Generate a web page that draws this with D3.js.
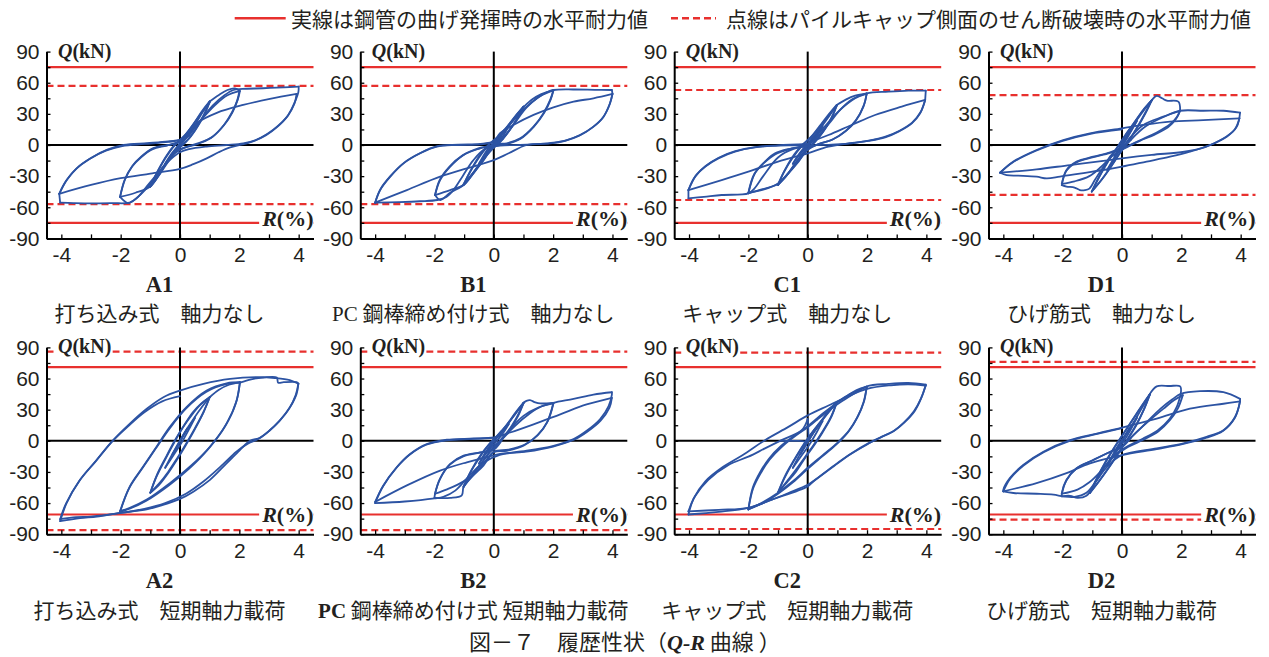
<!DOCTYPE html>
<html>
<head>
<meta charset="utf-8">
<script src="https://cdn.jsdelivr.net/npm/d3@7"></script>
<style>
  body { margin: 0; background: #fff; }
  svg { display: block; }
</style>
</head>
<body>
<svg id="chart" width="1269" height="657"></svg>
<script>
// ---- Q-R hysteresis records (R in %, Q in kN); each inner array is one loading branch ----
const loopsA1 = [
  [[0,0],[0.1,4],[0.25,9]],
  [[0.25,9],[0.05,2],[-0.1,-3],[-0.25,-8]],
  [[-0.25,-8],[-0.05,-1],[0.2,8],[0.5,19]],
  [[0.5,19],[0.3,10],[0.05,1],[-0.2,-7],[-0.5,-18]],
  [[-0.5,-18],[-0.3,-9],[-0.05,0],[0.2,8],[0.5,19]],
  [[0.5,19],[0.75,31],[1.0,42]],
  [[1.0,42],[0.85,31],[0.6,18],[0.3,6],[0,-2],[-0.3,-11],[-0.6,-24],[-0.85,-35],[-1.0,-40]],
  [[-1.0,-40],[-0.8,-28],[-0.5,-13],[-0.2,-1],[0.1,7],[0.4,18],[0.7,30],[1.0,41]],
  [[1.0,41],[0.8,29],[0.5,14],[0.2,3],[-0.1,-5],[-0.4,-16],[-0.7,-29],[-1.0,-40]],
  [[-1.0,-40],[-0.75,-25],[-0.45,-10],[-0.15,1],[0.15,9],[0.45,20],[0.75,33],[1.0,42]],
  [[1.0,42],[1.3,48],[1.6,53],[1.85,54.5],[2.02,52]],
  [[2.02,52],[1.95,44],[1.78,33],[1.5,20],[1.1,8],[0.6,1.5],[0.2,-2],[-0.2,-8],[-0.55,-20],[-0.9,-34],[-1.2,-44],[-1.5,-52],[-1.75,-56],[-2.02,-50]],
  [[-2.02,-50],[-1.85,-33],[-1.6,-20],[-1.3,-11],[-0.9,-3],[-0.4,0],[0,3],[0.4,14],[0.8,27],[1.2,39],[1.6,48],[2.0,52]],
  [[2.0,52],[1.93,43],[1.76,31],[1.48,19],[1.05,7],[0.55,0.5],[0.1,-3],[-0.3,-11],[-0.7,-28],[-1.0,-40],[-1.5,-46],[-2.02,-50]],
  [[-2.02,-50],[-1.87,-34],[-1.62,-21],[-1.32,-12],[-0.92,-4],[-0.45,-0.5],[0,3.5],[0.3,9]],
  [[0.3,9],[0.7,24],[1.1,38],[1.5,48],[1.8,53],[2.1,54],[2.8,54.7],[3.5,55.6],[4.0,56.3]],
  [[4.0,56.3],[3.99,51],[3.88,42],[3.65,29],[3.31,18.6],[2.94,10.6],[2.56,4.8],[2.13,1.6],[1.57,0],[0.9,-1.5],[0.3,-4],[0,-7],[-0.4,-16],[-0.8,-29],[-1.15,-41],[-1.45,-51],[-1.7,-55.5],[-2.3,-56],[-3.0,-56.3],[-3.6,-56],[-4.04,-55.6]],
  [[-4.04,-55.6],[-4.07,-47]],
  [[-4.07,-47],[-3.85,-35],[-3.5,-23],[-3.05,-13.5],[-2.5,-5.5],[-1.95,-1],[-1.2,1],[-0.4,3],[0,5],[0.2,10],[0.56,21],[1.24,31],[2.13,38.6],[3.03,44.4],[3.93,49.2]],
  [[3.93,49.2],[3.86,40],[3.63,28],[3.28,17.5],[2.9,9.5],[2.5,4],[2.1,0.5],[1.69,-2.3],[1.3,-7],[0.9,-12.9],[0.45,-18.5],[0,-23],[-1.0,-27.5],[-2.0,-32],[-3.0,-38.5],[-4.07,-47]],
  [[-4.07,-47],[-3.8,-33],[-3.45,-21.5],[-3.0,-12.5],[-2.45,-4.5],[-1.9,0],[-1.1,1.8],[-0.4,3.5],[0,5]]
];

const loopsB1 = [
  [[0,0],[0.1,3],[0.25,8]],
  [[0.25,8],[0,0],[-0.25,-8]],
  [[-0.25,-8],[0,1],[0.5,18]],
  [[0.5,18],[0.2,4],[-0.1,-4],[-0.5,-18]],
  [[-0.5,-18],[-0.2,-4],[0.1,5],[0.5,19]],
  [[0.5,19],[0.75,28],[1.0,37]],
  [[1.0,37],[0.8,26],[0.5,13],[0.2,3],[-0.1,-5],[-0.4,-15],[-0.7,-27],[-1.02,-38.6]],
  [[-1.02,-38.6],[-0.8,-26],[-0.5,-12],[-0.2,-1],[0.1,7],[0.4,16],[0.7,27],[1.0,37]],
  [[1.0,37],[0.82,27],[0.55,15],[0.25,4],[-0.05,-4],[-0.35,-14],[-0.65,-25],[-1.02,-38]],
  [[-1.02,-38],[-0.75,-23],[-0.45,-9],[-0.15,1],[0.2,9],[0.5,19],[0.8,30],[1.02,37]],
  [[1.02,37],[1.3,44],[1.6,49],[2.01,53]],
  [[2.01,53],[1.9,43.4],[1.67,30.5],[1.34,17.7],[0.89,6.4],[0.44,1.6],[0,0],[-0.35,-14.5],[-0.69,-27.3],[-1.02,-38.6],[-1.47,-46],[-1.8,-53],[-1.98,-48.2]],
  [[-1.98,-48.2],[-1.81,-33.8],[-1.47,-20.9],[-1.02,-9.6],[-0.46,-3.2],[0,0.5],[0.44,16],[1.0,34],[1.56,47],[2.01,52.5]],
  [[2.01,52.5],[1.92,44],[1.7,31],[1.36,18],[0.9,6],[0.45,1],[0,-1.6],[-0.35,-15],[-0.69,-27.3],[-1.02,-38.6],[-1.47,-43.4],[-1.98,-48.2]],
  [[-1.98,-48.2],[-1.83,-34],[-1.5,-21],[-1.05,-10],[-0.5,-3],[0,0],[0.3,6]],
  [[0.3,6],[0.7,21],[1.1,36],[1.5,46],[1.8,51],[2.01,53],[2.7,53.5],[3.4,53.2],[3.98,53]],
  [[3.98,53],[4.0,49.2]],
  [[4.0,49.2],[3.92,40.2],[3.7,27.3],[3.36,17.7],[2.91,9.6],[2.46,4.8],[2.01,2.3],[1.56,1],[0.89,0],[0.21,-0.6],[-0.3,-4],[-0.7,-15],[-1.05,-30],[-1.35,-43],[-1.6,-50],[-1.9,-53],[-2.5,-54.2],[-3.2,-55],[-4.0,-55.6]],
  [[-4.0,-55.6],[-3.83,-43.4],[-3.49,-30.5],[-3.04,-17.7],[-2.48,-8],[-1.92,-1.6],[-1.25,0],[-0.46,0.6],[0,3.2],[0.21,11.3],[0.66,19.3],[1.34,29],[2.01,36.3],[2.69,41.8],[3.36,45],[4.0,49.2]],
  [[4.0,49.2],[3.9,39],[3.68,26.5],[3.33,17],[2.88,9],[2.4,4],[1.9,1.5],[1.11,0],[0.5,-8],[0,-14.5],[-0.91,-22.5],[-1.81,-30.5],[-2.93,-43.4],[-4.0,-55.6]],
  [[-4.0,-55.6],[-3.82,-42.5],[-3.48,-29.8],[-3.02,-17],[-2.46,-7.5],[-1.9,-1.2],[-1.2,0.3],[-0.45,1],[0,3]]
];

const loopsC1 = [
  [[0,0],[0.1,3],[0.25,8]],
  [[0.25,8],[0.05,1],[-0.1,-3],[-0.25,-8]],
  [[-0.25,-8],[-0.05,-1],[0.2,7],[0.5,18]],
  [[0.5,18],[0.3,9],[0.05,0],[-0.2,-7],[-0.5,-18]],
  [[-0.5,-18],[-0.3,-9],[-0.05,0],[0.2,8],[0.5,19]],
  [[0.5,19],[0.75,29],[0.98,38.6]],
  [[0.98,38.6],[0.82,27],[0.55,14],[0.25,3],[-0.05,-5],[-0.35,-15],[-0.65,-27],[-1.0,-38.6]],
  [[-1.0,-38.6],[-0.8,-26],[-0.5,-12],[-0.2,-1],[0.1,7],[0.4,17],[0.7,28],[0.98,38]],
  [[0.98,38],[0.78,25],[0.5,12],[0.2,2],[-0.1,-6],[-0.4,-17],[-0.7,-29],[-1.0,-38]],
  [[-1.0,-38],[-0.75,-23],[-0.45,-9],[-0.15,1],[0.15,9],[0.45,20],[0.75,31],[0.98,38.6]],
  [[0.98,38.6],[1.3,44],[1.6,47.5],[1.99,49.8]],
  [[1.99,49.8],[1.88,37],[1.6,22.5],[1.26,12.9],[0.81,4.8],[0.36,1],[0,-4.8],[-0.31,-16],[-0.65,-27.3],[-1.0,-37.6],[-1.55,-42.8],[-2.0,-46.6]],
  [[-2.0,-46.6],[-1.78,-27.3],[-1.44,-16],[-1.1,-8],[-0.54,-3.2],[0,0],[0.47,14.5],[1.03,32.2],[1.6,45],[1.99,49.5]],
  [[1.99,49.5],[1.9,39],[1.63,24],[1.3,14],[0.85,5.5],[0.4,1],[0,-4],[-0.3,-15],[-0.65,-27],[-1.0,-37],[-1.5,-43],[-2.0,-46]],
  [[-2.0,-46],[-1.8,-28],[-1.46,-17],[-1.1,-9],[-0.55,-3.5],[0,0],[0.3,7]],
  [[0.3,7],[0.7,20],[1.1,34],[1.5,44],[1.99,49.8],[2.72,51.4],[3.39,52.4],[3.98,52.4]],
  [[3.98,52.4],[3.96,43.4]],
  [[3.96,43.4],[3.79,30.5],[3.51,20.9],[3.06,12.9],[2.61,7.4],[2.04,3.9],[1.48,1.6],[0.81,0.3],[0.13,-0.6],[-0.5,-4],[-1.0,-12],[-1.5,-30],[-1.8,-42],[-2.0,-46.6],[-2.9,-48.2],[-3.5,-50],[-4.02,-51.4]],
  [[-4.02,-51.4],[-4.02,-43.4]],
  [[-4.02,-43.4],[-3.8,-30.5],[-3.46,-20.9],[-3.01,-12.9],[-2.45,-6.4],[-1.78,-2.3],[-1.0,-0.6],[0,0.6],[0.13,3.2],[0.7,9.6],[1.48,19.3],[2.27,28.9],[3.17,37],[3.96,43.4]],
  [[3.96,43.4],[3.8,31.5],[3.52,21.5],[3.08,13.5],[2.62,8],[2.05,4.2],[1.5,2],[0.7,-1.6],[0,-8],[-1.0,-16],[-2.0,-25.7],[-2.9,-33.8],[-4.02,-43.4]],
  [[-4.02,-43.4],[-3.78,-30],[-3.44,-20.3],[-3.0,-12.3],[-2.44,-6],[-1.77,-2],[-1.0,-0.3],[0,1]]
];

const loopsD1 = [
  [[0,0],[0.1,5],[0.25,12]],
  [[0.25,12],[0,2],[-0.25,-11]],
  [[-0.25,-11],[0,0],[0.5,23]],
  [[0.5,23],[0.2,8],[-0.1,-6],[-0.5,-24]],
  [[-0.5,-24],[-0.2,-9],[0.1,6],[0.5,24]],
  [[0.5,24],[0.75,34],[1.0,43]],
  [[1.0,43],[0.8,31],[0.5,16],[0.2,3],[-0.1,-9],[-0.4,-22],[-0.7,-34],[-1.02,-45]],
  [[-1.02,-45],[-0.8,-32],[-0.5,-17],[-0.2,-4],[0.1,9],[0.4,21],[0.7,33],[1.0,43]],
  [[1.0,43],[0.82,33],[0.55,19],[0.25,5],[-0.05,-7],[-0.35,-20],[-0.65,-32],[-1.0,-44]],
  [[-1.0,-44],[-0.75,-30],[-0.45,-15],[-0.15,-2],[0.15,11],[0.45,23],[0.75,35],[1.0,43]],
  [[1.0,43],[1.17,47.3],[1.35,45],[1.51,42.8],[1.9,41.8],[1.96,33.4]],
  [[1.96,33.4],[1.85,27],[1.62,20],[1.17,12],[0.72,6],[0.2,-1],[-0.3,-8],[-0.6,-20],[-0.9,-33],[-1.1,-42],[-1.25,-43.5],[-1.42,-43.4],[-1.6,-41],[-1.87,-40],[-2.03,-38.6]],
  [[-2.03,-38.6],[-1.87,-24.1],[-1.53,-16],[-0.97,-11.3],[-0.4,-7],[0,-2],[0.3,8],[0.72,19.3],[1.39,27.3],[1.96,33]],
  [[1.96,33],[1.82,25],[1.55,17],[1.1,10],[0.6,4],[0.1,-3],[-0.3,-10],[-0.7,-21],[-1.1,-30],[-1.6,-35],[-2.03,-37.5]],
  [[-2.03,-37.5],[-1.88,-25],[-1.55,-17],[-1.0,-12],[-0.4,-7.5],[0,-3],[0.3,5]],
  [[0.3,5],[0.8,18],[1.4,27],[1.96,33],[2.74,33],[3.42,33],[3.98,31.2]],
  [[3.98,31.2],[3.87,17.7],[3.53,8],[2.97,0],[2.29,-6.4],[1.62,-11.3],[0.83,-16],[0,-20.9],[-0.63,-24.1],[-1.3,-27],[-2.09,-30.5],[-2.54,-32.2],[-2.88,-30.5],[-3.5,-29.5],[-3.89,-29],[-4.11,-26.7]],
  [[-4.11,-26.7],[-3.66,-16],[-2.88,-4.8],[-1.98,4.8],[-1.08,11.3],[0,16],[0.72,19.3],[1.62,22.5],[2.74,24],[3.96,25.7]],
  [[3.96,25.7],[3.8,15],[3.4,6],[2.8,-2],[2.1,-6.5],[1.0,-9.5],[0,-12.9],[-0.63,-15.4],[-1.75,-19.3],[-2.88,-23.5],[-4.11,-26.7]],
  [[-4.11,-26.7],[-3.7,-17],[-2.9,-5.5],[-2.0,4],[-1.1,10.5],[0,15]]
];

const loopsA2 = [
  [[0,0],[0.1,5],[0.25,12]],
  [[0.25,12],[0.05,2],[-0.1,-6],[-0.25,-13]],
  [[-0.25,-13],[-0.05,-3],[0.2,9],[0.5,22]],
  [[0.5,22],[0.3,11],[0.05,-2],[-0.2,-13],[-0.5,-26]],
  [[-0.5,-26],[-0.3,-15],[-0.05,-2],[0.2,10],[0.5,23]],
  [[0.5,23],[0.75,33],[1.0,42]],
  [[1.0,42],[0.8,28],[0.5,12],[0.2,-3],[-0.1,-17],[-0.4,-30],[-0.7,-41],[-1.0,-50]],
  [[-1.0,-50],[-0.8,-35],[-0.5,-18],[-0.2,-2],[0.1,13],[0.4,25],[0.7,35],[1.0,42]],
  [[1.0,42],[0.78,27],[0.48,10],[0.18,-5],[-0.12,-19],[-0.42,-32],[-0.72,-43],[-1.0,-50]],
  [[-1.0,-50],[-0.78,-33],[-0.48,-16],[-0.18,0],[0.12,14],[0.42,27],[0.72,36],[1.0,42]],
  [[1.0,42],[1.3,49],[1.65,54],[2.02,56.4]],
  [[2.02,56.4],[1.91,38.9],[1.57,16.6],[1.01,-5.7],[0.34,-24.8],[-0.34,-40.8],[-1.12,-56.7],[-1.69,-64.6],[-2.02,-67.8]],
  [[-2.02,-67.8],[-1.69,-43.9],[-1.24,-24.8],[-0.79,-5.7],[-0.34,13.4],[0.22,32.5],[0.9,48.4],[1.57,55.4],[2.02,56.4]],
  [[2.02,56.4],[1.88,36],[1.52,14],[0.95,-8],[0.3,-27],[-0.38,-43],[-1.15,-58],[-1.7,-65.5],[-2.02,-68.5]],
  [[-2.02,-68.5],[-1.72,-46],[-1.27,-26.5],[-0.82,-7.5],[-0.36,11.5],[0.2,31],[0.88,47],[1.55,54.5],[2.02,56]],
  [[2.02,56],[2.4,59.3],[2.81,61],[3.26,61],[3.31,56],[3.5,56.5],[3.93,56.5],[3.99,55]],
  [[3.99,55],[3.93,45.2],[3.71,32.5],[3.37,19.7],[3.03,10.2],[2.7,3],[2.36,0],[2.02,-8.9],[1.57,-21.7],[1.01,-37.6],[0.45,-49],[0,-56],[-0.6,-62],[-1.12,-66],[-2.02,-69.4],[-2.8,-73],[-3.37,-74.5],[-4.04,-77.4]],
  [[-4.04,-77.4],[-3.82,-59.9],[-3.37,-37.6],[-2.81,-18.5],[-2.25,0.6],[-1.69,16.6],[-1.12,30.9],[-0.56,42],[0,48.4],[0.79,54.8],[1.69,59.6],[2.6,61.3],[3.2,60.5],[3.7,58.5],[3.99,55]],
  [[3.99,55],[3.9,44],[3.68,31],[3.33,18.5],[2.98,9],[2.62,1.5],[2.3,-2.5],[1.9,-10.5],[1.4,-24],[0.8,-39],[0.2,-51],[-0.5,-60],[-1.2,-65.5],[-2.1,-70],[-3.0,-73],[-3.5,-73.5],[-4.04,-75.5]],
  [[-4.04,-75.5],[-3.85,-61],[-3.4,-39],[-2.85,-20],[-2.3,-1],[-1.75,14],[-1.2,27.5],[-0.6,38],[0,43]]
];

const loopsB2 = [
  [[0,0],[0.1,4],[0.25,9]],
  [[0.25,9],[0.05,1],[-0.1,-5],[-0.25,-11]],
  [[-0.25,-11],[-0.05,-2],[0.2,6],[0.5,16]],
  [[0.5,16],[0.3,7],[0.05,-2],[-0.2,-10],[-0.5,-22]],
  [[-0.5,-22],[-0.3,-12],[-0.05,-2],[0.2,6],[0.5,17]],
  [[0.5,17],[0.75,27],[1.0,36.6]],
  [[1.0,36.6],[0.82,24],[0.55,11],[0.25,1],[-0.05,-8],[-0.35,-19],[-0.68,-31],[-1.02,-44.6]],
  [[-1.02,-44.6],[-0.8,-31],[-0.5,-17],[-0.2,-5],[0.1,4],[0.4,14],[0.7,25],[1.0,36]],
  [[1.0,36],[0.78,23],[0.5,10],[0.2,0],[-0.1,-9],[-0.4,-21],[-0.7,-32],[-1.02,-44]],
  [[-1.02,-44],[-0.75,-28],[-0.45,-14],[-0.15,-3],[0.15,6],[0.45,16],[0.75,28],[1.0,36.6]],
  [[1.0,36.6],[1.1,38.5],[1.22,39.2],[1.4,37],[1.56,36],[2.01,36.6]],
  [[2.01,36.6],[1.79,17.5],[1.45,4.8],[1.0,-4.8],[0.44,-9.6],[0,-11.1],[-0.35,-23.9],[-0.69,-33.4],[-1.02,-44.6],[-1.08,-52.5],[-1.47,-55],[-2.0,-55]],
  [[-2.0,-55],[-1.98,-51],[-1.81,-36.6],[-1.47,-22.3],[-1.02,-14.3],[-0.46,-11.1],[0,-8],[0.3,3],[0.6,13],[1.0,24],[1.5,32],[2.01,36]],
  [[2.01,36],[1.82,19],[1.5,6],[1.05,-3.5],[0.5,-8.5],[0,-10.5],[-0.35,-22],[-0.7,-33],[-1.2,-42],[-1.6,-47],[-1.98,-51]],
  [[-1.98,-51],[-1.82,-37],[-1.48,-23],[-1.03,-15],[-0.47,-11.5],[0,-8.5],[0.3,2]],
  [[0.3,2],[0.7,14],[1.2,26],[1.6,33],[2.01,36.6],[2.69,40.4],[3.36,44.6],[3.98,46.8]],
  [[3.98,46.8],[3.98,44.6],[3.87,33.4],[3.58,20.7],[3.13,9.6],[2.69,1.6],[2.01,-4.8],[1.11,-9.6],[0.21,-12.7],[0,-14],[-0.91,-20.7],[-1.81,-28.7],[-2.93,-43],[-4.0,-58.9]],
  [[-4.0,-58.9],[-3.72,-43],[-3.27,-25.5],[-2.82,-12.7],[-2.26,-3.2],[-1.58,1],[-0.69,2.2],[0,3.2],[0.55,8],[1.34,15.9],[2.24,25.5],[3.13,35],[3.98,41.4]],
  [[3.98,41.4],[3.9,32],[3.6,19.5],[3.15,8.8],[2.7,1],[2.0,-5.5],[1.1,-10.5],[0.2,-13.5],[-0.4,-22],[-0.9,-36],[-1.3,-48],[-1.7,-54],[-2.0,-55.5],[-3.0,-58.5],[-4.0,-60]],
  [[-4.0,-60],[-3.74,-44],[-3.3,-26.5],[-2.84,-13.5],[-2.28,-3.8],[-1.6,0.5],[-0.7,1.8],[0,2.9]]
];

const loopsC2 = [
  [[0,0],[0.1,5],[0.25,11]],
  [[0.25,11],[0.05,1],[-0.1,-6],[-0.25,-13]],
  [[-0.25,-13],[-0.05,-3],[0.2,8],[0.5,19]],
  [[0.5,19],[0.3,8],[0.05,-4],[-0.2,-14],[-0.5,-26]],
  [[-0.5,-26],[-0.3,-15],[-0.05,-3],[0.2,8],[0.5,20]],
  [[0.5,20],[0.75,29],[0.98,37.3]],
  [[0.98,37.3],[0.8,24],[0.5,9],[0.2,-4],[-0.1,-16],[-0.4,-28],[-0.7,-39],[-0.99,-49.7]],
  [[-0.99,-49.7],[-0.8,-37],[-0.5,-21],[-0.2,-7],[0.1,6],[0.4,17],[0.7,28],[0.98,37]],
  [[0.98,37],[0.78,22],[0.5,8],[0.2,-5],[-0.1,-17],[-0.4,-30],[-0.7,-40],[-0.99,-49]],
  [[-0.99,-49],[-0.75,-33],[-0.45,-18],[-0.15,-4],[0.15,8],[0.45,19],[0.75,30],[0.98,37.3]],
  [[0.98,37.3],[1.3,43],[1.65,49],[1.99,52.2]],
  [[1.99,52.2],[1.9,38],[1.7,24],[1.4,10],[1.0,-2],[0.5,-14],[0,-26],[-0.5,-39],[-1.0,-50],[-1.5,-59],[-2.0,-66.2]],
  [[-2.0,-66.2],[-1.85,-45],[-1.6,-30],[-1.3,-17],[-0.9,-5],[-0.4,6],[0,14],[0.5,26],[1.0,37],[1.5,46],[1.99,52]],
  [[1.99,52],[1.88,37],[1.66,22],[1.35,8],[0.95,-4],[0.45,-16],[0,-27],[-0.5,-40],[-1.0,-51],[-1.5,-60],[-2.0,-66]],
  [[-2.0,-66],[-1.84,-46],[-1.58,-31],[-1.28,-18],[-0.88,-6],[-0.4,5],[0,13],[0.3,20]],
  [[0.3,20],[0.7,29],[1.15,38],[1.6,46],[1.99,52.5],[2.72,54.8],[3.39,55.7],[3.98,54.1]],
  [[3.98,54.1],[3.84,42],[3.62,29.3],[3.28,18.2],[2.94,10.2],[2.49,3.8],[2.04,-2.5],[1.48,-12.1],[0.92,-23.2],[0.25,-37.6],[0,-42.4],[-0.65,-50.3],[-1.21,-56.7],[-2.0,-64.6],[-3.0,-68.5],[-4.02,-71]],
  [[-4.02,-71],[-3.85,-56],[-3.45,-39],[-2.85,-25],[-2.2,-14],[-1.44,0.6],[-0.65,13.4],[0,24.5],[0.7,34],[1.3,42],[2.0,50],[2.8,53.5],[3.4,54.5],[3.98,53.2]],
  [[3.98,53.2],[3.82,41],[3.58,28.5],[3.24,17.5],[2.9,9.5],[2.44,3],[2.0,-3.5],[1.44,-13],[0.88,-24.5],[0.2,-39],[0,-43.9],[-1.21,-56.7],[-2.0,-64.6],[-3.0,-66.5],[-4.02,-68]],
  [[-4.02,-68],[-3.8,-53.5],[-3.35,-37.6],[-2.67,-23.2],[-2.0,-15.3],[-1.44,-7.3],[-0.88,0.6],[-0.2,10.2],[0,21]],
  [[0,21],[0.02,10],[0,0],[-0.3,0],[-0.9,0]]
];

const loopsD2 = [
  [[0,0],[0.1,5],[0.25,12]],
  [[0.25,12],[0.05,2],[-0.1,-5],[-0.25,-12]],
  [[-0.25,-12],[-0.05,-2],[0.2,9],[0.5,22]],
  [[0.5,22],[0.3,11],[0.05,-1],[-0.2,-11],[-0.5,-24]],
  [[-0.5,-24],[-0.3,-13],[-0.05,-1],[0.2,9],[0.5,23]],
  [[0.5,23],[0.72,34],[0.94,45.2]],
  [[0.94,45.2],[0.75,31],[0.5,16],[0.2,2],[-0.1,-11],[-0.4,-24],[-0.75,-38],[-1.08,-50.3]],
  [[-1.08,-50.3],[-0.85,-36],[-0.55,-20],[-0.25,-6],[0.05,7],[0.35,20],[0.65,33],[0.94,44.5]],
  [[0.94,44.5],[0.72,29],[0.45,14],[0.15,0],[-0.15,-13],[-0.45,-26],[-0.8,-40],[-1.08,-50]],
  [[-1.08,-50],[-0.8,-34],[-0.5,-18],[-0.2,-4],[0.1,9],[0.4,22],[0.7,35],[0.94,45.2]],
  [[0.94,45.2],[1.17,52.5],[1.6,52.8],[1.96,52.5],[1.98,45.2]],
  [[1.98,45.2],[1.85,33],[1.6,21],[1.2,10],[0.7,2],[0.2,-5],[-0.3,-15],[-0.7,-30],[-1.0,-45],[-1.2,-53],[-1.5,-55],[-1.75,-53],[-2.03,-53.5]],
  [[-2.03,-53.5],[-2.03,-51],[-1.87,-37.6],[-1.53,-26.4],[-0.97,-18.5],[-0.4,-10.5],[0,-5.7],[0.4,6],[0.9,19],[1.4,31],[1.75,39],[2.05,44]],
  [[2.05,44],[1.88,31],[1.62,20],[1.22,9],[0.72,1],[0.2,-6],[-0.3,-16],[-0.7,-29],[-1.1,-40],[-1.5,-47],[-2.03,-51]],
  [[-2.03,-51],[-1.88,-38.5],[-1.55,-27],[-1.0,-19],[-0.42,-11],[0,-6],[0.3,3]],
  [[0.3,3],[0.8,17],[1.3,31],[1.7,40],[1.98,45.2],[2.63,47.8],[3.42,46.8],[3.98,40.4]],
  [[3.98,40.4],[3.98,38.9],[3.81,22.9],[3.42,10.2],[2.85,3.8],[2.07,-2.5],[1.17,-7.3],[0,-13.7],[-0.5,-25],[-0.9,-40],[-1.2,-50],[-1.6,-54],[-1.98,-53.5],[-2.31,-51.9],[-2.88,-51],[-3.66,-50.3],[-4.0,-48.7]],
  [[-4.0,-48.7],[-4.0,-47.1],[-3.78,-36],[-3.33,-23.2],[-2.65,-10.5],[-1.75,0.6],[-0.85,7],[0,12.7],[1.17,21.3],[2.29,30.9],[3.42,35.7],[3.98,37.9]],
  [[3.98,37.9],[3.8,22],[3.4,9.5],[2.85,3],[2.07,-3],[1.17,-8],[0,-13.7],[-1.08,-21.7],[-1.87,-31.2],[-2.88,-40.8],[-4.0,-48.7]],
  [[-4.0,-48.7],[-3.77,-36.5],[-3.32,-23.8],[-2.64,-11],[-1.74,0.2],[-0.84,6.6],[0,12.3]]
];

// ---- panel metadata ----
const panelNames = ['A1', 'B1', 'C1', 'D1', 'A2', 'B2', 'C2', 'D2'];
const panelSubtitles = [
  '打ち込み式　軸力なし', 'PC 鋼棒締め付け式　軸力なし', 'キャップ式　軸力なし', 'ひげ筋式　軸力なし',
  '打ち込み式　短期軸力載荷', 'PC 鋼棒締め付け式 短期軸力載荷', 'キャップ式　短期軸力載荷', 'ひげ筋式　短期軸力載荷'
];
const bendingCapacity = [75, 75, 75, 75, 71, 71, 71, 71];   // solid red line (kN)
const shearCapacity   = [57, 57, 53, 48, 86, 86, 85, 76];   // dashed red line (kN)
const panelLoops = [loopsA1, loopsB1, loopsC1, loopsD1, loopsA2, loopsB2, loopsC2, loopsD2];

// ---- axes ----
const rDomain = [-4.5, 4.5];
const qDomain = [-90, 90];
const rTicks = [-4, -3, -2, -1, 0, 1, 2, 3, 4];
const rLabels = [-4, -2, 0, 2, 4];
const qTicks = [-90, -75, -60, -45, -30, -15, 0, 15, 30, 45, 60, 75, 90];
const qLabels = [-90, -60, -30, 0, 30, 60, 90];

const legendItems = ['実線は鋼管の曲げ発揮時の水平耐力値', '点線はパイルキャップ側面のせん断破壊時の水平耐力値'];

// ---- styling ----
const INK = '#231f20';
const RED = '#e8302e';
const BLUE = '#2c53a3';
const SANS = '"Liberation Sans", Arial, Helvetica, sans-serif';
const SERIF = '"Liberation Serif", "Times New Roman", serif';
const CJK = '"Noto Sans CJK JP", "Noto Sans CJK SC", sans-serif';

const colX0 = [180, 493.8, 807.7, 1122];   // pixel of R = 0 in each column
const rowY0 = [145, 440.8];                 // pixel of Q = 0 in each row
const halfW = 133.5, halfH = 93.4;
const nameBaseline = [291.5, 588];
const subBaseline = [321, 618];

const svg = d3.select('#chart');

const lineGen = d3.line().curve(d3.curveCatmullRom.alpha(0.5));

panelNames.forEach((name, i) => {
  const col = i % 4, row = Math.floor(i / 4);
  const cx = colX0[col], cy = rowY0[row];
  const x = d3.scaleLinear().domain(rDomain).range([cx - halfW, cx + halfW]);
  const y = d3.scaleLinear().domain(qDomain).range([cy + halfH, cy - halfH]);
  const g = svg.append('g');
  const xl = x(rDomain[0]), xr = x(rDomain[1]);

  // capacity lines
  [bendingCapacity[i], -bendingCapacity[i]].forEach(v => {
    g.append('line').attr('x1', xl).attr('x2', xr).attr('y1', y(v)).attr('y2', y(v))
      .attr('stroke', RED).attr('stroke-width', 2.2);
  });
  [shearCapacity[i], -shearCapacity[i]].forEach(v => {
    g.append('line').attr('x1', xl).attr('x2', xr).attr('y1', y(v)).attr('y2', y(v))
      .attr('stroke', RED).attr('stroke-width', 2.2).attr('stroke-dasharray', '7,4');
  });

  // zero lines
  g.append('line').attr('x1', xl).attr('x2', xr).attr('y1', y(0)).attr('y2', y(0))
    .attr('stroke', '#000').attr('stroke-width', 2);
  g.append('line').attr('x1', x(0)).attr('x2', x(0)).attr('y1', y(qDomain[1])).attr('y2', y(qDomain[0]))
    .attr('stroke', '#000').attr('stroke-width', 2);

  // hysteresis branches
  lineGen.x(d => x(d[0])).y(d => y(d[1]));
  g.append('g').selectAll('path').data(panelLoops[i]).join('path')
    .attr('d', lineGen)
    .attr('fill', 'none').attr('stroke', BLUE).attr('stroke-width', 1.8)
    .attr('stroke-linejoin', 'round').attr('stroke-linecap', 'round');

  // axes
  const yAxis = d3.axisLeft(y).tickValues(qTicks)
    .tickFormat(d => qLabels.includes(d) ? String(d) : '')
    .tickSizeInner(-4).tickSizeOuter(0).tickPadding(7);
  const ya = g.append('g').attr('transform', `translate(${xl},0)`).call(yAxis);
  const xAxis = d3.axisBottom(x).tickValues(rTicks)
    .tickFormat(d => rLabels.includes(d) ? String(d) : '')
    .tickSizeInner(-4).tickSizeOuter(0).tickPadding(8.5);
  const xa = g.append('g').attr('transform', `translate(0,${y(qDomain[0])})`).call(xAxis);
  [ya, xa].forEach(a => {
    a.select('.domain').attr('stroke', '#000').attr('stroke-width', 2);
    a.selectAll('.tick line').attr('stroke', '#000').attr('stroke-width', 1.3);
    a.selectAll('.tick text').attr('font-family', SANS).attr('font-size', 21).attr('fill', INK);
  });

  // axis titles with white backing
  const qLab = g.append('text').attr('x', xl + 11.5).attr('y', y(qDomain[1]) + 6)
    .attr('font-family', SERIF).attr('font-weight', 'bold').attr('font-size', 20).attr('fill', INK);
  qLab.append('tspan').attr('font-style', 'italic').text('Q');
  qLab.append('tspan').text('(kN)');
  const qb = qLab.node().getBBox();
  g.insert('rect', () => qLab.node()).attr('x', qb.x - 1).attr('y', qb.y + 1)
    .attr('width', qb.width + 2).attr('height', qb.height - 2).attr('fill', '#fff');

  const rLab = g.append('text').attr('x', xr).attr('y', y(qDomain[0]) - 12.5)
    .attr('text-anchor', 'end')
    .attr('font-family', SERIF).attr('font-weight', 'bold').attr('font-size', 22).attr('fill', INK);
  rLab.append('tspan').attr('font-style', 'italic').text('R');
  rLab.append('tspan').text('(%)');
  const rb = rLab.node().getBBox();
  g.insert('rect', () => rLab.node()).attr('x', rb.x - 2).attr('y', rb.y + 3)
    .attr('width', rb.width + 2).attr('height', rb.height - 6).attr('fill', '#fff');

  // panel name and description
  const labelX = cx - 20.5;
  g.append('text').attr('x', labelX).attr('y', nameBaseline[row]).attr('text-anchor', 'middle')
    .attr('font-family', SERIF).attr('font-weight', 'bold').attr('font-size', 22.5).attr('fill', INK)
    .text(name);
  const sub = g.append('text').attr('x', labelX).attr('y', subBaseline[row]).attr('text-anchor', 'middle')
    .attr('font-family', CJK).attr('font-size', 21).attr('fill', INK);
  const s = panelSubtitles[i];
  if (s.startsWith('PC')) {
    sub.append('tspan').attr('font-family', SERIF).attr('font-weight', row === 1 ? 'bold' : 'normal').text('PC');
    sub.append('tspan').text(s.slice(2));
  } else {
    sub.text(s);
  }
});

// legend
const lg = svg.append('g');
lg.append('line').attr('x1', 234.7).attr('x2', 285.7).attr('y1', 18.3).attr('y2', 18.3)
  .attr('stroke', RED).attr('stroke-width', 2.4);
lg.append('text').attr('x', 291).attr('y', 26.5).attr('font-family', CJK).attr('font-size', 21)
  .attr('fill', INK).text(legendItems[0]);
lg.append('line').attr('x1', 671).attr('x2', 716).attr('y1', 18.3).attr('y2', 18.3)
  .attr('stroke', RED).attr('stroke-width', 2.4).attr('stroke-dasharray', '7,4');
lg.append('text').attr('x', 726).attr('y', 26.5).attr('font-family', CJK).attr('font-size', 21)
  .attr('fill', INK).text(legendItems[1]);

// figure caption
const cap = svg.append('text').attr('x', 469).attr('y', 649.5)
  .attr('font-family', CJK).attr('font-size', 22).attr('fill', INK);
cap.append('tspan').text('図－７　履歴性状（');
cap.append('tspan').attr('font-family', SERIF).attr('font-weight', 'bold').attr('font-style', 'italic').text('Q-R');
cap.append('tspan').text(' 曲線 ）');
</script>
</body>
</html>
